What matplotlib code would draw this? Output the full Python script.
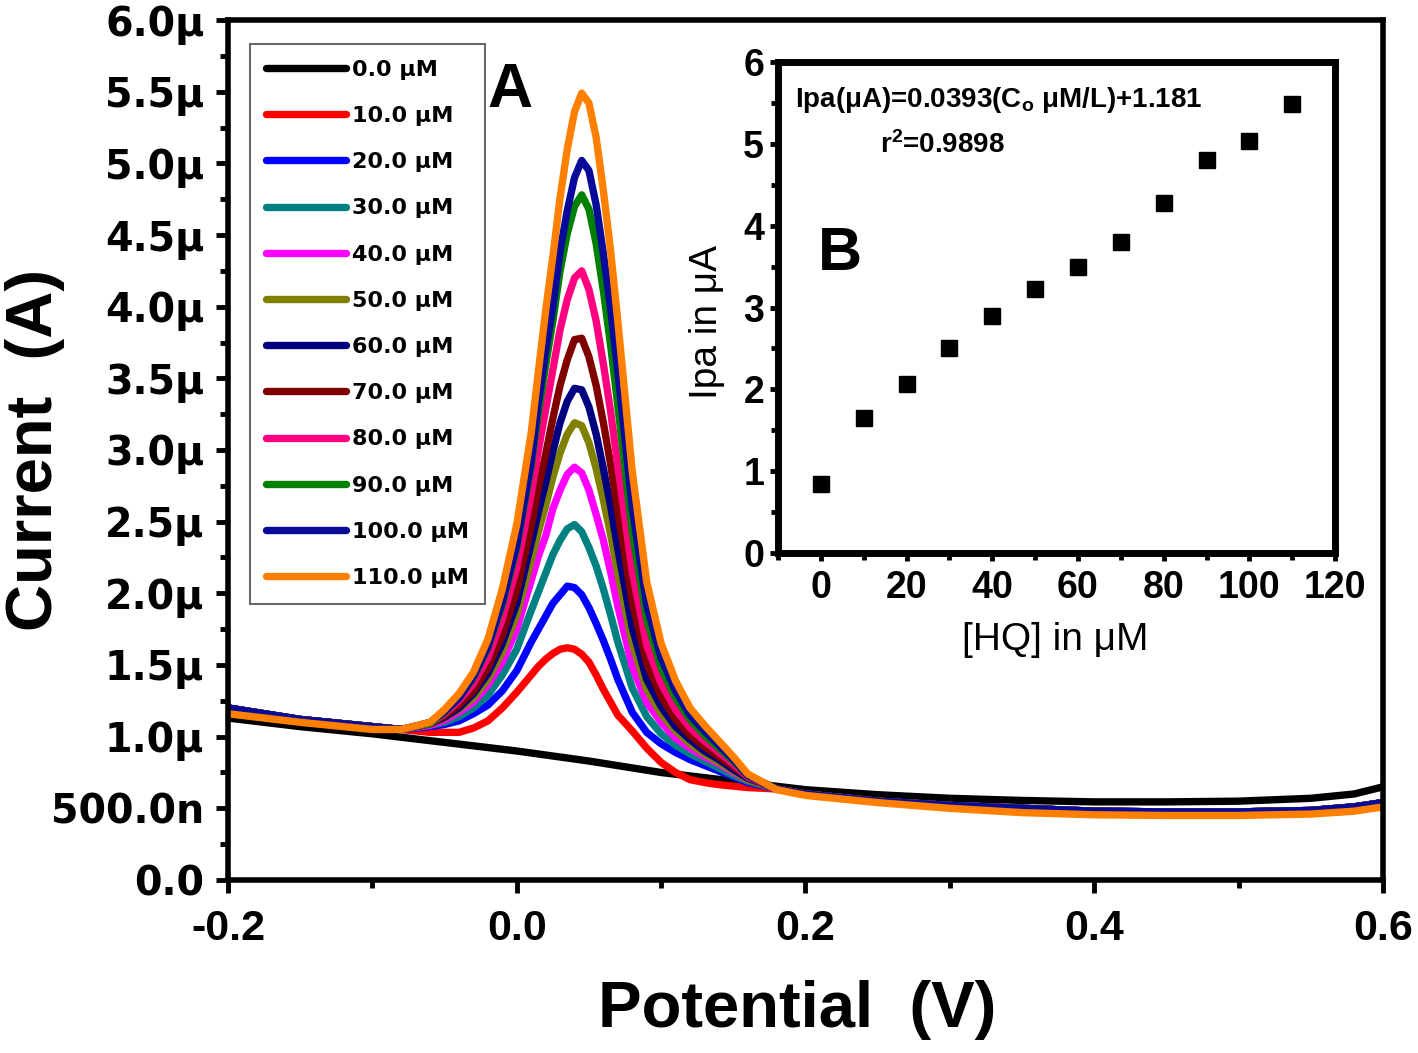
import matplotlib
matplotlib.use('Agg')
import matplotlib.pyplot as plt
from matplotlib import font_manager
from matplotlib.ticker import MultipleLocator, FixedLocator, FixedFormatter

# pick a narrow font for the inset if there is one
names = {f.name for f in font_manager.fontManager.ttflist}
narrow = 'Liberation Sans'
for cand in ['Liberation Sans Narrow', 'DejaVu Sans Condensed']:
    if cand in names:
        narrow = cand
        break

plt.rcParams['mathtext.default'] = 'regular'

# ---- data: potential (V) and current (uA) ----
E_left = [-0.20, -0.15, -0.10, -0.08]
I_left = [1.20, 1.12, 1.07, 1.05]
I_left_orange = [1.16, 1.10, 1.05, 1.05]

E_right = [0.18, 0.20, 0.25, 0.30, 0.35, 0.40, 0.45, 0.50, 0.55, 0.58, 0.60]
I_right = [0.635, 0.60, 0.55, 0.52, 0.50, 0.48, 0.475, 0.475, 0.485, 0.51, 0.54]
I_right_orange = [0.63, 0.59, 0.54, 0.50, 0.47, 0.455, 0.45, 0.45, 0.46, 0.48, 0.51]

E_black = [-0.20, -0.15, -0.10, -0.05, 0.0, 0.05, 0.10, 0.15, 0.20, 0.25, 0.30,
           0.35, 0.40, 0.45, 0.50, 0.55, 0.58, 0.60]
I_black = [1.13, 1.07, 1.02, 0.96, 0.90, 0.83, 0.75, 0.69, 0.63, 0.595, 0.57,
           0.555, 0.545, 0.545, 0.55, 0.57, 0.60, 0.65]

E_peak = [-0.06, -0.05, -0.04, -0.03, -0.02, -0.01, 0.0, 0.01, 0.015, 0.02, 0.025,
          0.03, 0.035, 0.04, 0.045, 0.05, 0.055, 0.06, 0.065, 0.07, 0.08, 0.09,
          0.10, 0.11, 0.12, 0.13, 0.14, 0.15, 0.16]
I_10 = [1.03, 1.03, 1.03, 1.06, 1.11, 1.20, 1.31, 1.43, 1.49, 1.54, 1.58, 1.61, 1.62,
        1.61, 1.575, 1.52, 1.43, 1.33, 1.24, 1.15, 1.04, 0.92, 0.82, 0.75, 0.70,
        0.68, 0.665, 0.655, 0.645]
I_20 = [1.07, 1.085, 1.11, 1.16, 1.22, 1.32, 1.46, 1.66, 1.75, 1.84, 1.93, 1.99, 2.05,
        2.04, 1.99, 1.90, 1.79, 1.67, 1.54, 1.40, 1.17, 1.03, 0.95, 0.89, 0.84,
        0.80, 0.76, 0.72, 0.68]
I_30 = [1.08, 1.10, 1.14, 1.20, 1.29, 1.43, 1.61, 1.88, 2.01, 2.14, 2.27, 2.37, 2.45,
        2.48, 2.43, 2.32, 2.19, 2.03, 1.85, 1.66, 1.34, 1.14, 1.02, 0.94, 0.88,
        0.83, 0.78, 0.73, 0.69]
I_40 = [1.08, 1.115, 1.17, 1.24, 1.36, 1.52, 1.75, 2.09, 2.26, 2.40, 2.59, 2.72, 2.83,
        2.88, 2.84, 2.72, 2.55, 2.37, 2.15, 1.91, 1.49, 1.24, 1.10, 0.99, 0.92,
        0.86, 0.81, 0.75, 0.70]
I_50 = [1.09, 1.13, 1.19, 1.27, 1.40, 1.59, 1.85, 2.23, 2.43, 2.61, 2.81, 2.98, 3.11,
        3.19, 3.17, 3.05, 2.87, 2.65, 2.41, 2.14, 1.65, 1.33, 1.16, 1.04, 0.95,
        0.88, 0.82, 0.76, 0.70]
I_60 = [1.09, 1.135, 1.20, 1.30, 1.44, 1.65, 1.93, 2.35, 2.57, 2.77, 2.99, 3.19, 3.34,
        3.43, 3.42, 3.30, 3.11, 2.87, 2.61, 2.31, 1.76, 1.40, 1.21, 1.07, 0.98,
        0.90, 0.84, 0.77, 0.71]
I_70 = [1.09, 1.145, 1.22, 1.32, 1.48, 1.71, 2.02, 2.47, 2.74, 2.97, 3.22, 3.45, 3.63,
        3.77, 3.78, 3.65, 3.45, 3.19, 2.90, 2.57, 1.94, 1.51, 1.28, 1.12, 1.01,
        0.93, 0.86, 0.79, 0.72]
I_80 = [1.09, 1.16, 1.25, 1.37, 1.55, 1.82, 2.18, 2.69, 3.00, 3.28, 3.56, 3.84, 4.05,
        4.20, 4.25, 4.12, 3.90, 3.60, 3.27, 2.89, 2.15, 1.64, 1.37, 1.19, 1.06,
        0.97, 0.89, 0.81, 0.72]
I_90 = [1.09, 1.17, 1.27, 1.41, 1.62, 1.92, 2.32, 2.89, 3.26, 3.59, 3.90, 4.25, 4.51,
        4.70, 4.78, 4.68, 4.44, 4.11, 3.73, 3.31, 2.43, 1.82, 1.48, 1.27, 1.12,
        1.01, 0.92, 0.83, 0.73]
I_100 = [1.10, 1.175, 1.27, 1.42, 1.63, 1.94, 2.34, 2.92, 3.33, 3.69, 4.00, 4.39, 4.67,
         4.90, 5.02, 4.95, 4.71, 4.37, 3.99, 3.55, 2.60, 1.92, 1.55, 1.32, 1.15,
         1.04, 0.94, 0.84, 0.73]
I_110 = [1.10, 1.19, 1.30, 1.45, 1.68, 2.03, 2.48, 3.12, 3.55, 3.97, 4.35, 4.76, 5.10,
         5.36, 5.49, 5.42, 5.18, 4.81, 4.39, 3.90, 2.85, 2.08, 1.65, 1.39, 1.20,
         1.08, 0.97, 0.86, 0.74]

peaks = [I_10, I_20, I_30, I_40, I_50, I_60, I_70, I_80, I_90, I_100, I_110]
labels = ['0.0 μM', '10.0 μM', '20.0 μM', '30.0 μM', '40.0 μM', '50.0 μM',
          '60.0 μM', '70.0 μM', '80.0 μM', '90.0 μM', '100.0 μM', '110.0 μM']
colors = ['#000000', '#FF0000', '#0000FF', '#008080', '#FF00FF', '#808000',
          '#000080', '#800000', '#FF0080', '#008000', '#0A0A9A', '#FF8000']

ytick_vals = [0, 0.5, 1.0, 1.5, 2.0, 2.5, 3.0, 3.5, 4.0, 4.5, 5.0, 5.5, 6.0]
ytick_text = ['0.0', '500.0n', '1.0μ', '1.5μ', '2.0μ', '2.5μ', '3.0μ', '3.5μ',
              '4.0μ', '4.5μ', '5.0μ', '5.5μ', '6.0μ']
xtick_vals = [-0.2, 0.0, 0.2, 0.4, 0.6]
xtick_text = ['-0.2', '0.0', '0.2', '0.4', '0.6']

# inset calibration
HQ = [0, 10, 20, 30, 40, 50, 60, 70, 80, 90, 100, 110]
Ipa = [0.84, 1.65, 2.07, 2.51, 2.90, 3.23, 3.50, 3.80, 4.28, 4.80, 5.04, 5.49]

# ---- figure ----
fig = plt.figure(figsize=(14.18, 10.53), dpi=100)
ax = fig.add_axes([0.1608, 0.1643, 0.8145, 0.8167])

lw = 5.3
ax.plot(E_black, I_black, color=colors[0], lw=lw, label=labels[0], solid_capstyle='round')
for i, cur in enumerate(peaks):
    if i == len(peaks) - 1:
        ys = I_left_orange + cur + I_right_orange
    else:
        ys = I_left + cur + I_right
    ax.plot(E_left + E_peak + E_right, ys, color=colors[i + 1], lw=lw,
            label=labels[i + 1], solid_capstyle='round', solid_joinstyle='round')

ax.set_xlim(-0.2, 0.6)
ax.set_ylim(0, 6)
ax.xaxis.set_major_locator(FixedLocator(xtick_vals))
ax.xaxis.set_major_formatter(FixedFormatter(xtick_text))
ax.xaxis.set_minor_locator(MultipleLocator(0.1))
ax.yaxis.set_major_locator(FixedLocator(ytick_vals))
ax.yaxis.set_major_formatter(FixedFormatter(ytick_text))
ax.yaxis.set_minor_locator(MultipleLocator(0.25))
ax.tick_params(which='both', direction='out', width=3.5, top=False, right=False)
ax.tick_params(which='major', length=9)
ax.tick_params(which='minor', length=6)
ax.tick_params(axis='y', pad=8)
ax.tick_params(axis='x', pad=12)
for s in ax.spines.values():
    s.set_linewidth(4)
for t in ax.get_yticklabels():
    t.set_fontfamily('DejaVu Sans')
    t.set_fontweight('bold')
    t.set_fontsize(28.5)
for t in ax.get_xticklabels():
    t.set_fontfamily('Liberation Sans')
    t.set_fontweight('bold')
    t.set_fontsize(31)

ax.set_xlabel('Potential  (V)', fontfamily='Liberation Sans', fontweight='bold', fontsize=47)
ax.set_ylabel('Current  (A)', fontfamily='Liberation Sans', fontweight='bold', fontsize=47)
ax.xaxis.set_label_coords(0.493, -0.116)
ax.yaxis.set_label_coords(-0.141, 0.5)

leg = ax.legend(loc='upper left', bbox_to_anchor=(0.019, 0.972), frameon=True,
                fancybox=False, handlelength=3.6, handletextpad=0.3,
                labelspacing=1.18, borderpad=0.7, borderaxespad=0,
                prop={'family': 'DejaVu Sans', 'weight': 'bold', 'size': 16})
leg.get_frame().set_edgecolor('#444444')
leg.get_frame().set_linewidth(1.5)

ax.text(0.225, 0.918, 'A', transform=ax.transAxes, fontfamily='Liberation Sans',
        fontweight='bold', fontsize=45, va='center', ha='left')

# ---- inset ----
ins = fig.add_axes([0.5487, 0.4748, 0.3928, 0.4663])
ins.plot(HQ, Ipa, 's', color='black', markersize=11)
ins.set_xlim(-10, 120)
ins.set_ylim(0, 6)
ins.xaxis.set_major_locator(MultipleLocator(20))
ins.xaxis.set_minor_locator(MultipleLocator(10))
ins.yaxis.set_major_locator(MultipleLocator(1))
ins.yaxis.set_minor_locator(MultipleLocator(0.5))
ins.tick_params(which='both', direction='out', width=3.5, top=False, right=False)
ins.tick_params(which='major', length=6)
ins.tick_params(which='minor', length=5)
ins.tick_params(axis='y', pad=4)
ins.tick_params(axis='x', pad=6)
for s in ins.spines.values():
    s.set_linewidth(5)
for t in ins.get_xticklabels() + ins.get_yticklabels():
    t.set_fontfamily(narrow)
    t.set_fontweight('bold')
    t.set_fontsize(27)
ins.set_xlabel('[HQ] in μM', fontfamily=narrow, fontsize=28)
ins.set_ylabel('Ipa in μA', fontfamily=narrow, fontsize=28)
ins.xaxis.set_label_coords(0.497, -0.14)
ins.yaxis.set_label_coords(-0.095, 0.47)

ins.text(0.03, 0.923, 'Ipa(μA)=0.0393(C$_o$ μM/L)+1.181', transform=ins.transAxes,
         fontfamily=narrow, fontweight='bold', fontsize=20, va='center', ha='left')
ins.text(0.183, 0.831, 'r$^2$=0.9898', transform=ins.transAxes,
         fontfamily=narrow, fontweight='bold', fontsize=20, va='center', ha='left')
ins.text(0.072, 0.609, 'B', transform=ins.transAxes, fontfamily='Liberation Sans',
         fontweight='bold', fontsize=44, va='center', ha='left')

fig.savefig('out.png', dpi=100, facecolor='white')
